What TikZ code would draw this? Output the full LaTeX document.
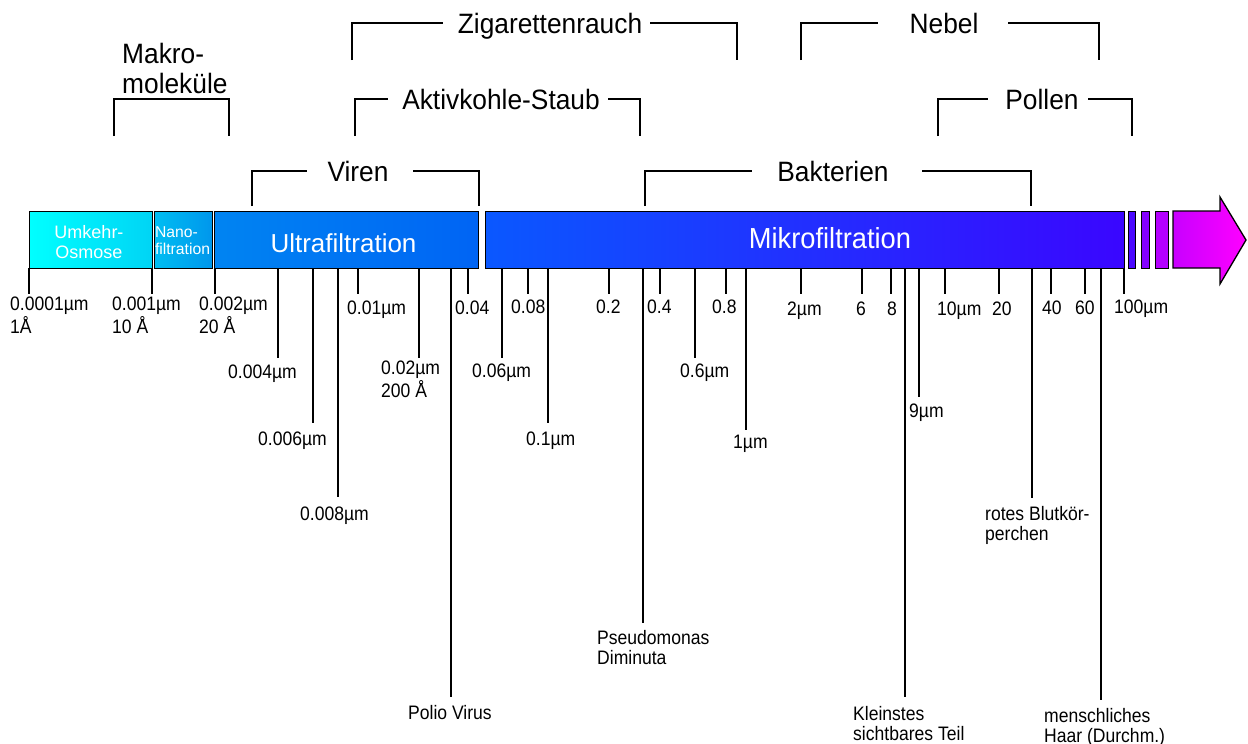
\documentclass[tikz,border=0pt]{standalone}
\usepackage{fontspec}
\setmainfont{Liberation Sans}
\newfontfamily\ticksf{Liberation Sans}[FakeStretch=0.9]
\newfontfamily\brsf{Liberation Sans}[FakeStretch=0.94]
\usetikzlibrary{positioning}
\definecolor{UMKL}{HTML}{00FFFF}
\definecolor{UMKR}{HTML}{00D4F5}
\definecolor{NANL}{HTML}{00BEF2}
\definecolor{NANR}{HTML}{0096EC}
\definecolor{ULTL}{HTML}{0084F2}
\definecolor{ULTR}{HTML}{0064F4}
\definecolor{MIKL}{HTML}{0A58FF}
\definecolor{MIKR}{HTML}{3A06FF}
\definecolor{SBA}{HTML}{4A08FF}
\definecolor{SBB}{HTML}{8400FF}
\definecolor{SBC}{HTML}{B400FF}
\definecolor{ARRL}{HTML}{C800FF}
\definecolor{ARRR}{HTML}{FF00FF}

\begin{document}
\begin{tikzpicture}[
    x=1pt, y=-1pt,
    band/.style={draw=black, line width=1.3pt, minimum height=57pt, inner sep=0pt, anchor=north west},
    tk/.style={black, line width=1.2pt},
    brk/.style={black, line width=1.2pt},
    ticklbl/.style={font=\ticksf\fontsize{19.5}{20}\selectfont, inner sep=0pt, anchor=base west, align=left},
    brlbl/.style={font=\brsf\fontsize{28}{30}\selectfont, inner sep=0pt, anchor=base},
    barlbl/.style={text=white, inner sep=0pt},
  ]
  \useasboundingbox (0,0) rectangle (1248,744);

  % filtration bands
  \node[band, minimum width=122.5pt, left color=UMKL, right color=UMKR] (umk) at (29,211) {};
  \node[band, minimum width=58.5pt, left color=NANL, right color=NANR] (nan) at (153.5,211) {};
  \node[band, minimum width=264pt, left color=ULTL, right color=ULTR] (ult) at (214,211) {};
  \node[band, minimum width=639pt, left color=MIKL, right color=MIKR] (mik) at (485,211) {};
  \node[band, minimum width=7pt, fill=SBA] (sb1) at (1128,211) {};
  \node[band, minimum width=8pt, fill=SBB] (sb2) at (1141,211) {};
  \node[band, minimum width=13pt, fill=SBC] (sb3) at (1155,211) {};
  \path[draw=black, line width=1.3pt, left color=ARRL, right color=ARRR]
    (1173,211) -- (1220,211) -- (1220,197) -- (1246,240) -- (1220,284)
    -- (1220,268) -- (1173,268) -- cycle;

  \node[barlbl, font=\fontsize{18}{20}\selectfont, align=center] (umklbl) at (89,242) {Umkehr-\\Osmose};
  \node[barlbl, font=\fontsize{15.7}{17}\selectfont, align=left] (nanlbl) at (182.5,241) {Nano-\\filtration};
  \node[barlbl, font=\fontsize{26}{28}\selectfont] (ultlbl) at (343.5,243) {Ultrafiltration};
  \node[barlbl, font=\brsf\fontsize{29}{30}\selectfont] (miklbl) at (830,238) {Mikrofiltration};

  % scale ticks and labels (base = last line)
  \foreach \x/\ye/\lx/\ly/\txt [count=\i] in {
      29/294/10/333/{0.0001µm\\1Å},
      152/294/112/333/{0.001µm\\10 Å},
      215/294/199/333/{0.002µm\\20 Å},
      278/358/228/378/{0.004µm},
      313/423/258/445/{0.006µm},
      338/497/300/520/{0.008µm},
      358/294/347/314/{0.01µm},
      419/358/381/397/{0.02µm\\200 Å},
      451/697/408/719/{Polio Virus},
      468/294/455/314/{0.04},
      502/358/472/377/{0.06µm},
      528/294/511/313/{0.08},
      548/423/526/445/{0.1µm},
      609/294/596/313/{0.2},
      643/623/597/664/{Pseudomonas\\Diminuta},
      660/294/647/313/{0.4},
      695/358/680/377/{0.6µm},
      726/294/712/313/{0.8},
      746/430/733/448/{1µm},
      801/294/787/315/{2µm},
      862/294/856/315/{6},
      891/294/887/315/{8},
      905/697/853/740/{Kleinstes\\sichtbares Teil},
      919/397/909/417/{9µm},
      945/294/937/315/{10µm},
      999/294/992/315/{20},
      1032/498/985/540/{rotes Blutkör-\\perchen},
      1051/294/1042/314/{40},
      1085/294/1075/314/{60},
      1101/700/1044/742/{menschliches\\Haar (Durchm.)},
      1124/294/1114/313/{100µm}} {
    \draw[tk] (\x,268) -- (\x,\ye);
    \node[ticklbl] (lb\i) at (\lx,\ly) {\txt};
  }

  % particle brackets
  \foreach \n/\xa/\xb/\xc/\xd/\xe/\yy/\yb/\txt in {
      zig/352/443/550/650/737/23/60/Zigarettenrauch,
      neb/801/878/944/1008/1099/23/60/Nebel,
      akt/355/388/501/608/640/99/136/Aktivkohle-Staub,
      pol/938/988/1042/1088/1132/99/136/Pollen,
      vir/252/307/358/413/479/171/206/Viren,
      bak/645/752/833/922/1031/171/206/Bakterien} {
    \node[brlbl] (br\n) at (\xc,{\yy+10}) {\txt};
    \draw[brk] (\xa,\yb) |- (\xb,\yy);
    \draw[brk] (\xd,\yy) -| (\xe,\yb);
  }
  \node[brlbl, anchor=base west, align=left] (brmak) at (122,93) {Makro-\\moleküle};
  \draw[brk] (114,136) |- (229,99) -- (229,136);

\end{tikzpicture}
\end{document}
